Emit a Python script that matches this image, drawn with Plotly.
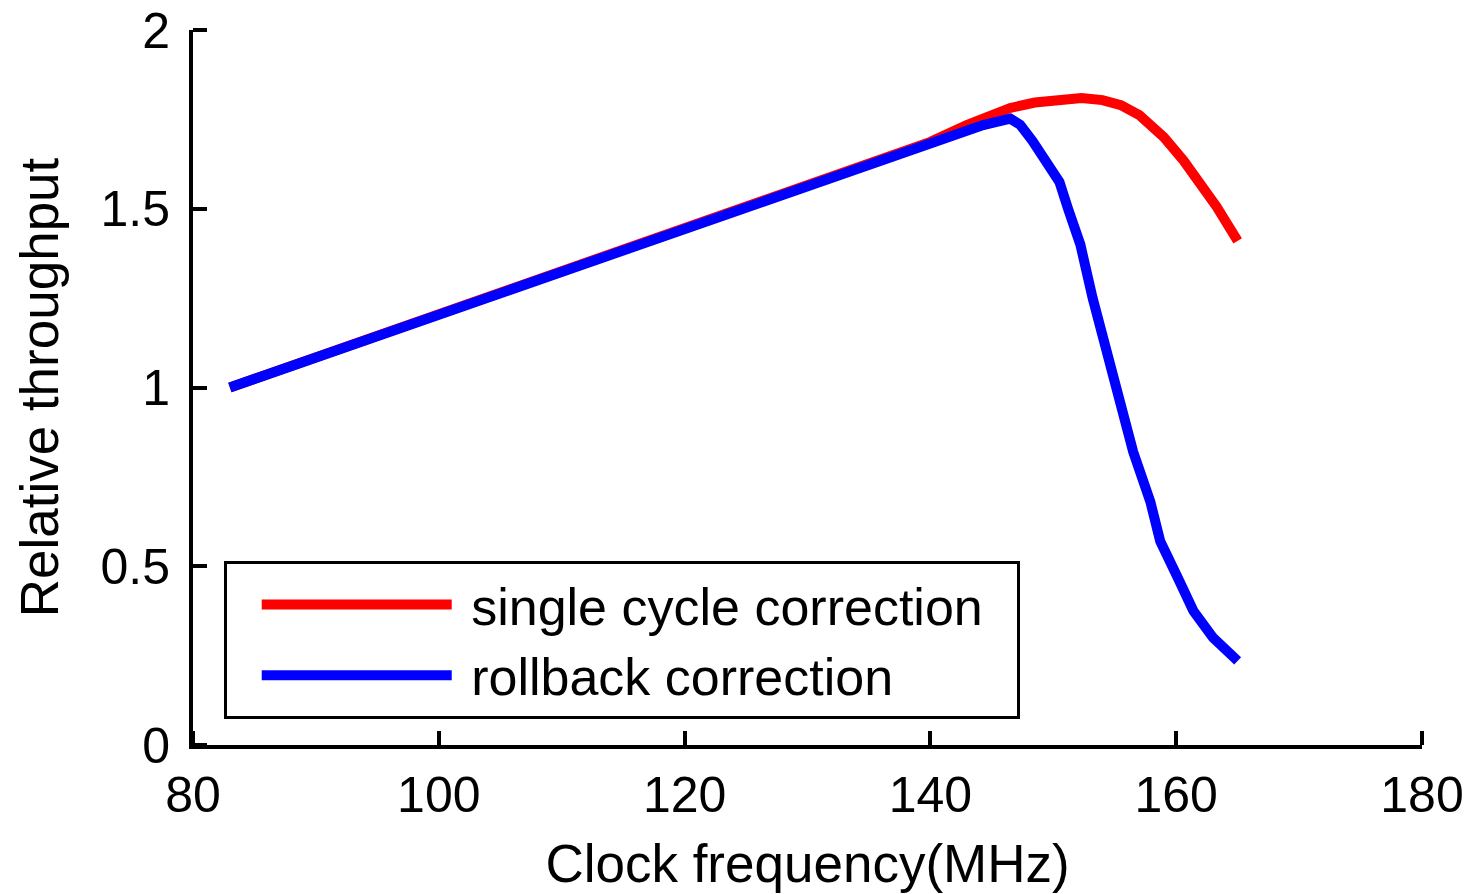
import plotly.graph_objects as go

# Clock frequency (MHz) and relative throughput for each correction scheme
freq_single = [83, 100, 120, 140, 143, 145, 146.5, 148.5, 150.5, 152.3, 154, 155.5,
               157, 158.2, 159, 160.6, 161.7, 163.3, 165]
thr_single = [1.0, 1.205, 1.446, 1.687, 1.735, 1.765, 1.782, 1.797, 1.806, 1.810, 1.804, 1.790,
              1.762, 1.730, 1.700, 1.635, 1.585, 1.505, 1.410]

freq_rollback = [83, 100, 120, 140, 142, 144.3, 146.5, 147.3, 148.3, 149.5, 150.5, 151.2,
                 152.2, 153.2, 154.4, 155.2, 156.5, 157.9, 158.7, 160.1, 161.4, 163.0, 165.0]
thr_rollback = [1.0, 1.205, 1.446, 1.687, 1.71, 1.734, 1.752, 1.735, 1.69, 1.63, 1.575, 1.50,
                1.40, 1.25, 1.10, 0.99, 0.82, 0.68, 0.57, 0.47, 0.375, 0.30, 0.235]

series_names = ["single cycle correction", "rollback correction"]
x_ticks = [80, 100, 120, 140, 160, 180]
y_ticks = [0, 0.5, 1, 1.5, 2]
y_tick_text = ["0", "0.5", "1", "1.5", "2"]

FONT = "Liberation Sans, Arial, Helvetica, sans-serif"
NBSP = "\u00a0"

fig = go.Figure()
fig.add_trace(go.Scatter(x=freq_single, y=thr_single, mode="lines",
                         name=NBSP + series_names[0] + NBSP * 2,
                         line=dict(color="#ff0000", width=10)))
fig.add_trace(go.Scatter(x=freq_rollback, y=thr_rollback, mode="lines",
                         name=NBSP + series_names[1],
                         line=dict(color="#0000ff", width=10)))

fig.update_layout(
    width=1474, height=894,
    margin=dict(l=193, r=52, t=30, b=149, autoexpand=False),
    paper_bgcolor="white", plot_bgcolor="white",
    font=dict(family=FONT, size=50, color="black"),
    showlegend=True,
    legend=dict(
        x=0.025, y=0.257, xanchor="left", yanchor="top",
        bgcolor="white", bordercolor="black", borderwidth=3,
        font=dict(family=FONT, size=52, color="black"),
        itemwidth=190, tracegroupgap=0, indentation=30,
    ),
)

# Major ticks are invisible spacers that set the label gap;
# the visible marks are inward-pointing minor ticks at the same values.
fig.update_xaxes(
    range=[80, 180], tickmode="array", tickvals=x_ticks, ticktext=[str(v) for v in x_ticks],
    showline=True, linecolor="black", linewidth=4, mirror=False,
    ticks="outside", ticklen=3, tickwidth=1, tickcolor="rgba(0,0,0,0)",
    minor=dict(tickmode="array", tickvals=x_ticks, ticks="inside",
               ticklen=14, tickwidth=4, tickcolor="black", showgrid=False),
    showgrid=False, zeroline=False, automargin=False,
    tickfont=dict(family=FONT, size=50),
    title=dict(text="Clock frequency(MHz)", font=dict(family=FONT, size=53), standoff=24),
)
fig.update_yaxes(
    range=[0, 2], tickmode="array", tickvals=y_ticks, ticktext=y_tick_text,
    showline=True, linecolor="black", linewidth=4, mirror=False,
    ticks="outside", ticklen=9, tickwidth=1, tickcolor="rgba(0,0,0,0)",
    minor=dict(tickmode="array", tickvals=y_ticks, ticks="inside",
               ticklen=14, tickwidth=4, tickcolor="black", showgrid=False),
    showgrid=False, zeroline=False, automargin=False,
    tickfont=dict(family=FONT, size=50),
    title=dict(text="Relative throughput", font=dict(family=FONT, size=53), standoff=26),
)

fig.write_html("out.html")
